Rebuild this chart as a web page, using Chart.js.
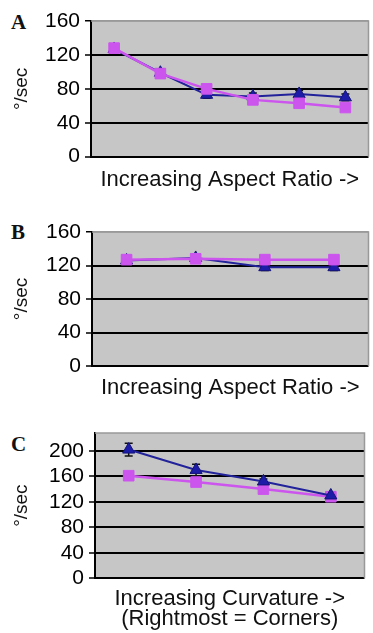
<!DOCTYPE html>
<html>
<head>
<meta charset="utf-8">
<script src="https://cdn.jsdelivr.net/npm/chart.js@4/dist/chart.umd.min.js"></script>
<style>
  html, body { margin: 0; padding: 0; background: #fff; overflow: hidden; width: 373px; height: 633px; }
  canvas { position: absolute; left: 0; }
  .tag { position: absolute; font: bold 21px "Liberation Serif", "DejaVu Serif", serif; color: #111; }
</style>
</head>
<body>
<div class="tag" style="left:11px;top:10px">A</div>
<canvas id="chartA" width="377" height="194" style="top:0px"></canvas>
<div class="tag" style="left:11px;top:220px">B</div>
<canvas id="chartB" width="377" height="202" style="top:200px"></canvas>
<div class="tag" style="left:11px;top:432px">C</div>
<canvas id="chartC" width="373" height="228" style="top:405px"></canvas>
<script>
// categories (no tick labels shown on the x axis)
const catsA = ["1", "2", "3", "4", "5", "6"]
const catsB = ["1", "2", "3", "4"]
const catsC = ["1", "2", "3", "4"]

// panel A: increasing aspect ratio
const pinkA = [128, 98, 80, 67, 63, 58]
const blueA = [127, 99, 73, 71, 74, 70]
const pinkErrA = [3, 3, 3, 3, 3, 3]
const blueErrA = [4, 4, 4, 4, 4, 4]

// panel B: increasing aspect ratio
const pinkB = [127, 128, 127, 127]
const blueB = [126, 129, 118, 118]
const pinkErrB = [3, 3, 3, 3]
const blueErrB = [4, 4, 4, 4]

// panel C: increasing curvature
const pinkC = [161, 151, 140, 128]
const blueC = [202, 170, 152, 130]
const pinkErrC = [2, 2, 2, 2]
const blueErrC = [10, 9, 4, 6]

const ticksAB = [0, 40, 80, 120, 160]
const ticksC = [0, 40, 80, 120, 160, 200]

const PINK = "#cc55ee"
const BLUE = "#22229a"

// gray plot background + thin gray frame
const plotFrame = {
  id: "plotFrame",
  beforeDraw(chart) {
    const { ctx, chartArea: a } = chart
    ctx.save()
    ctx.fillStyle = "#c6c6c6"
    ctx.fillRect(a.left, a.top, a.right - a.left, a.bottom - a.top)
    ctx.restore()
  },
  beforeDatasetsDraw(chart) {
    const { ctx, chartArea: a } = chart
    ctx.save()
    ctx.strokeStyle = "#999"
    ctx.lineWidth = 1.5
    ctx.beginPath()
    ctx.moveTo(a.left, a.top)
    ctx.lineTo(a.right, a.top)
    ctx.lineTo(a.right, a.bottom)
    ctx.stroke()
    ctx.restore()
  }
}

// simple error bars, read from dataset.errors
const errorBars = {
  id: "errorBars",
  beforeDatasetsDraw(chart) {
    const { ctx } = chart
    const y = chart.scales.y
    ctx.save()
    ctx.strokeStyle = "#111"
    ctx.lineWidth = 1.5
    chart.data.datasets.forEach((ds, i) => {
      if (!ds.errors) return
      chart.getDatasetMeta(i).data.forEach((pt, j) => {
        const e = ds.errors[j]
        if (!e) return
        const top = y.getPixelForValue(ds.data[j] + e)
        const bot = y.getPixelForValue(ds.data[j] - e)
        ctx.beginPath()
        ctx.moveTo(pt.x, top); ctx.lineTo(pt.x, bot)
        ctx.moveTo(pt.x - 4, top); ctx.lineTo(pt.x + 4, top)
        ctx.moveTo(pt.x - 4, bot); ctx.lineTo(pt.x + 4, bot)
        ctx.stroke()
      })
    })
    ctx.restore()
  }
}

function pinkSet(data, errors) {
  return {
    data, errors,
    borderColor: PINK, borderWidth: 2.5,
    pointStyle: "rect", pointRadius: 7.5,
    pointBackgroundColor: PINK, pointBorderColor: PINK, pointBorderWidth: 1
  }
}
function blueSet(data, errors) {
  return {
    data, errors,
    borderColor: BLUE, borderWidth: 2,
    pointStyle: "triangle", pointRadius: 7,
    pointBackgroundColor: "#1c1ca8", pointBorderColor: "#14147a", pointBorderWidth: 1
  }
}

function makeChart(id, opts) {
  const topVal = opts.ticks[opts.ticks.length - 1]
  return new Chart(document.getElementById(id), {
    type: "line",
    data: { labels: opts.labels, datasets: opts.datasets },
    plugins: [plotFrame, errorBars],
    options: {
      responsive: false,
      animation: false,
      layout: { padding: { top: opts.top, right: opts.right || 0, left: 0, bottom: 0 } },
      plugins: { legend: { display: false }, tooltip: { enabled: false } },
      scales: {
        x: {
          type: "category",
          offset: true,
          grid: { display: false },
          border: { display: false },
          ticks: { display: false },
          title: {
            display: true,
            text: opts.xTitle,
            color: "#111",
            font: { family: "Liberation Sans, Arial, sans-serif", size: 22, lineHeight: opts.xLine },
            padding: { top: 0, bottom: opts.xPad }
          },
          afterFit(s) { s.height = opts.xHeight }
        },
        y: {
          min: 0,
          max: opts.max,
          afterBuildTicks(s) { s.ticks = opts.ticks.map(v => ({ value: v })) },
          grid: {
            color: c => (c.tick && c.tick.value === topVal && opts.max === topVal) ? "#9a9a9a" : "#000",
            lineWidth: c => (c.tick && c.tick.value === topVal && opts.max === topVal) ? 1.5 : 2,
            tickColor: "#000",
            tickLength: 6,
            tickWidth: 1.5
          },
          border: { color: "#000", width: 2 },
          ticks: {
            color: "#000",
            padding: 5,
            font: { family: "Liberation Sans, Arial, sans-serif", size: 21 }
          },
          title: {
            display: true,
            text: "°/sec",
            color: "#111",
            font: { family: "Liberation Sans, Arial, sans-serif", size: 19, lineHeight: 1.2 },
            padding: { top: 10.6, bottom: 0 }
          },
          afterFit(s) { s.width = opts.yWidth }
        }
      }
    }
  })
}

// A: pink drawn on top
makeChart("chartA", {
  labels: catsA,
  datasets: [pinkSet(pinkA, pinkErrA), blueSet(blueA, blueErrA)],
  max: 160, ticks: ticksAB,
  top: 21, yWidth: 91, xHeight: 37.3,
  xTitle: "Increasing Aspect Ratio ->", xLine: 1.2, xPad: 1
})

// B
makeChart("chartB", {
  labels: catsB,
  datasets: [pinkSet(pinkB, pinkErrB), blueSet(blueB, blueErrB)],
  max: 160, ticks: ticksAB,
  top: 32, yWidth: 92, xHeight: 36,
  xTitle: "Increasing Aspect Ratio ->", xLine: 1.2, xPad: 0.8
})

// C: blue drawn on top, axis tops out above 200
makeChart("chartC", {
  labels: catsC,
  datasets: [blueSet(blueC, blueErrC), pinkSet(pinkC, pinkErrC)],
  max: 228, ticks: ticksC,
  top: 28, right: 6, yWidth: 95, xHeight: 54.7,
  xTitle: ["Increasing Curvature ->", "(Rightmost = Corners)"], xLine: 0.9, xPad: 4.5
})
</script>
</body>
</html>
